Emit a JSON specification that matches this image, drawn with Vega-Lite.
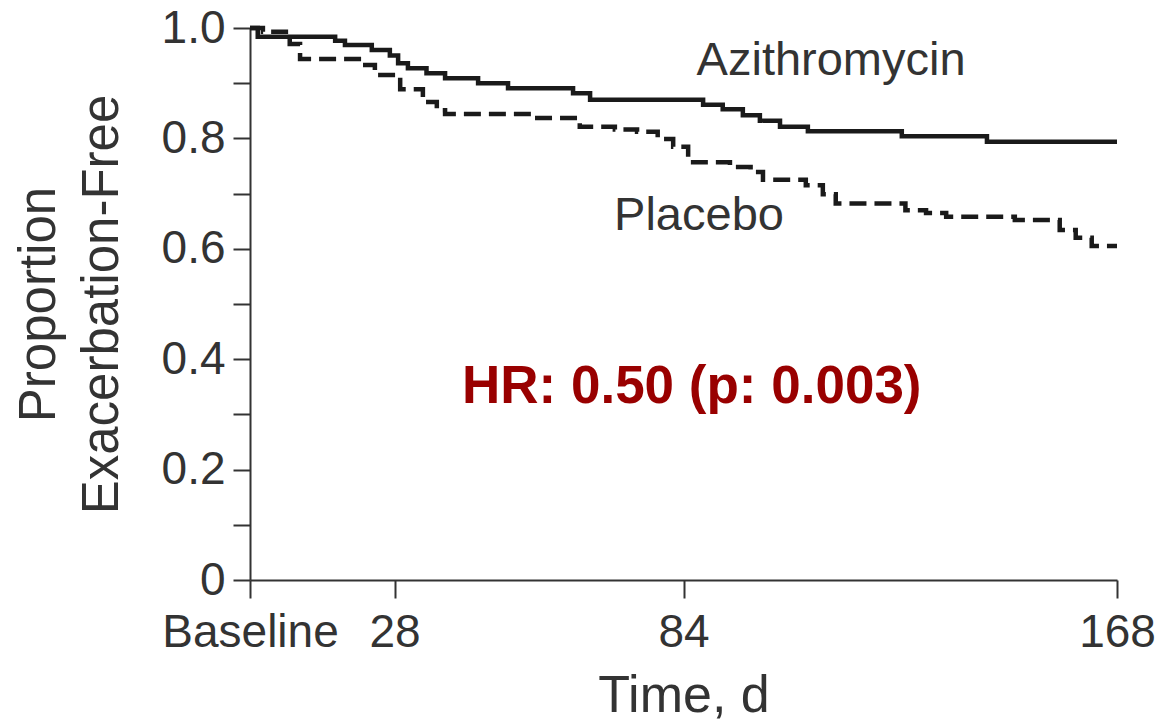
{
  "$schema": "https://vega.github.io/schema/vega-lite/v6.json",
  "width": 867,
  "height": 552,
  "autosize": {"type": "none"},
  "padding": {"left": 250, "top": 28, "right": 46, "bottom": 146},
  "background": "white",
  "config": {"view": {"stroke": null}, "font": "Liberation Sans"},
  "datasets": {
    "km": [
      {"arm": "Azithromycin", "day": 0, "survival": 1.0},
      {"arm": "Azithromycin", "day": 1.5, "survival": 0.984},
      {"arm": "Azithromycin", "day": 16.5, "survival": 0.977},
      {"arm": "Azithromycin", "day": 18.4, "survival": 0.969},
      {"arm": "Azithromycin", "day": 23.6, "survival": 0.96},
      {"arm": "Azithromycin", "day": 27.1, "survival": 0.95},
      {"arm": "Azithromycin", "day": 28.7, "survival": 0.936},
      {"arm": "Azithromycin", "day": 30.6, "survival": 0.927},
      {"arm": "Azithromycin", "day": 34.2, "survival": 0.918},
      {"arm": "Azithromycin", "day": 37.8, "survival": 0.909},
      {"arm": "Azithromycin", "day": 44.2, "survival": 0.9},
      {"arm": "Azithromycin", "day": 50.0, "survival": 0.891},
      {"arm": "Azithromycin", "day": 62.6, "survival": 0.882},
      {"arm": "Azithromycin", "day": 65.9, "survival": 0.87},
      {"arm": "Azithromycin", "day": 87.8, "survival": 0.861},
      {"arm": "Azithromycin", "day": 91.6, "survival": 0.853},
      {"arm": "Azithromycin", "day": 95.5, "survival": 0.842},
      {"arm": "Azithromycin", "day": 98.8, "survival": 0.832},
      {"arm": "Azithromycin", "day": 102.7, "survival": 0.821},
      {"arm": "Azithromycin", "day": 108.1, "survival": 0.813},
      {"arm": "Azithromycin", "day": 126.3, "survival": 0.804},
      {"arm": "Azithromycin", "day": 142.8, "survival": 0.794},
      {"arm": "Azithromycin", "day": 168, "survival": 0.794},
      {"arm": "Placebo", "day": 0, "survival": 1.0},
      {"arm": "Placebo", "day": 2.5, "survival": 0.993},
      {"arm": "Placebo", "day": 7.7, "survival": 0.971},
      {"arm": "Placebo", "day": 9.7, "survival": 0.944},
      {"arm": "Placebo", "day": 21.7, "survival": 0.933},
      {"arm": "Placebo", "day": 24.2, "survival": 0.915},
      {"arm": "Placebo", "day": 29.1, "survival": 0.889},
      {"arm": "Placebo", "day": 33.5, "survival": 0.866},
      {"arm": "Placebo", "day": 36.2, "survival": 0.851},
      {"arm": "Placebo", "day": 37.8, "survival": 0.844},
      {"arm": "Placebo", "day": 54.6, "survival": 0.837},
      {"arm": "Placebo", "day": 63.9, "survival": 0.821},
      {"arm": "Placebo", "day": 70.7, "survival": 0.816},
      {"arm": "Placebo", "day": 75.0, "survival": 0.812},
      {"arm": "Placebo", "day": 79.0, "survival": 0.799},
      {"arm": "Placebo", "day": 82.0, "survival": 0.785},
      {"arm": "Placebo", "day": 84.9, "survival": 0.757},
      {"arm": "Placebo", "day": 93.0, "survival": 0.748},
      {"arm": "Placebo", "day": 97.0, "survival": 0.739},
      {"arm": "Placebo", "day": 99.4, "survival": 0.725},
      {"arm": "Placebo", "day": 107.7, "survival": 0.715},
      {"arm": "Placebo", "day": 111.0, "survival": 0.699},
      {"arm": "Placebo", "day": 113.5, "survival": 0.682},
      {"arm": "Placebo", "day": 127.0, "survival": 0.670},
      {"arm": "Placebo", "day": 131.0, "survival": 0.665},
      {"arm": "Placebo", "day": 134.9, "survival": 0.658},
      {"arm": "Placebo", "day": 148.2, "survival": 0.652},
      {"arm": "Placebo", "day": 156.9, "survival": 0.634},
      {"arm": "Placebo", "day": 160.0, "survival": 0.62},
      {"arm": "Placebo", "day": 163.1, "survival": 0.605},
      {"arm": "Placebo", "day": 168, "survival": 0.605}
    ],
    "armLabels": [
      {"label": "Azithromycin", "day": 112.6, "survival": 0.915},
      {"label": "Placebo", "day": 87.0, "survival": 0.634}
    ],
    "stats": [
      {"label": "HR: 0.50 (p: 0.003)", "day": 85.6, "survival": 0.321}
    ]
  },
  "layer": [
    {
      "data": {"name": "km"},
      "mark": {"type": "line", "interpolate": "step-after", "strokeWidth": 4.5, "color": "#1a1a1a"},
      "encoding": {
        "x": {
          "field": "day", "type": "quantitative",
          "scale": {"domain": [0, 168], "nice": false, "zero": false},
          "axis": {
            "values": [0, 28, 84, 168],
            "labelExpr": "datum.value == 0 ? 'Baseline' : datum.label",
            "labelFlush": false,
            "labelOverlap": false,
            "grid": false,
            "tickSize": 18, "tickWidth": 2, "tickColor": "#333333",
            "domainWidth": 2, "domainColor": "#333333",
            "labelFont": "Liberation Sans", "labelFontSize": 46, "labelColor": "#333333", "labelPadding": 12,
            "title": "Time, d",
            "titleFont": "Liberation Sans", "titleFontSize": 52, "titleFontWeight": "normal", "titleColor": "#333333", "titlePadding": 15
          }
        },
        "y": {
          "field": "survival", "type": "quantitative",
          "scale": {"domain": [0, 1], "nice": false},
          "axis": {
            "values": [0, 0.1, 0.2, 0.3, 0.4, 0.5, 0.6, 0.7, 0.8, 0.9, 1.0],
            "labelExpr": "datum.value == 0 ? '0' : (round(datum.value * 10) % 2 == 0 ? format(datum.value, '.1f') : '')",
            "labelOverlap": false,
            "labelFlush": false,
            "grid": false,
            "tickSize": 17, "tickWidth": 2, "tickColor": "#333333",
            "domainWidth": 2, "domainColor": "#333333",
            "labelFont": "Liberation Sans", "labelFontSize": 46, "labelColor": "#333333", "labelPadding": 8,
            "title": ["Proportion", "Exacerbation-Free"],
            "titleFont": "Liberation Sans", "titleFontSize": 51, "titleFontWeight": "normal", "titleColor": "#333333",
            "titleLineHeight": 63, "titlePadding": 33
          }
        },
        "strokeDash": {
          "field": "arm", "type": "nominal",
          "scale": {"domain": ["Azithromycin", "Placebo"], "range": [[1, 0], [17, 8]]},
          "legend": null
        }
      }
    },
    {
      "data": {"name": "armLabels"},
      "mark": {"type": "text", "font": "Liberation Sans", "fontSize": 47, "color": "#333333", "align": "center", "baseline": "alphabetic"},
      "encoding": {
        "x": {"field": "day", "type": "quantitative"},
        "y": {"field": "survival", "type": "quantitative"},
        "text": {"field": "label"}
      }
    },
    {
      "data": {"name": "stats"},
      "mark": {"type": "text", "font": "Liberation Sans", "fontSize": 53, "fontWeight": "bold", "color": "#990000", "align": "center", "baseline": "alphabetic"},
      "encoding": {
        "x": {"field": "day", "type": "quantitative"},
        "y": {"field": "survival", "type": "quantitative"},
        "text": {"field": "label"}
      }
    }
  ]
}
